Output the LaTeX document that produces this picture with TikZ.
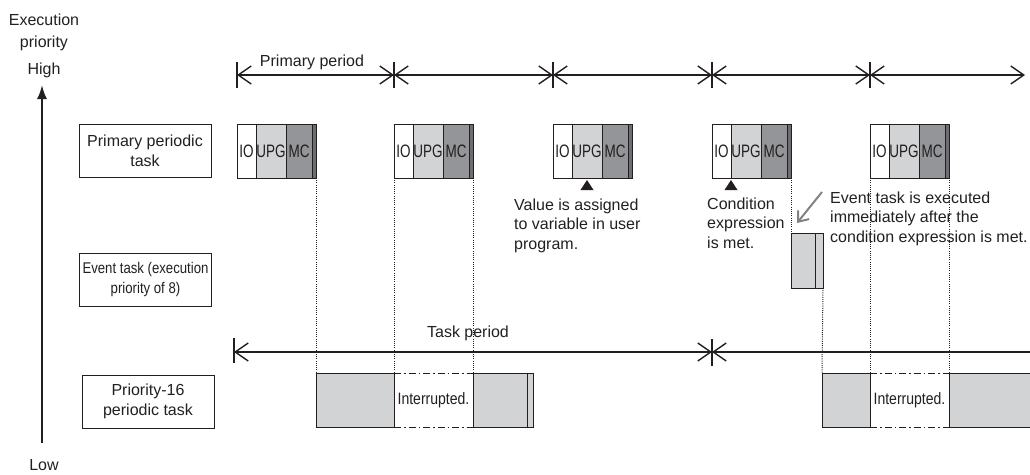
\documentclass[tikz,border=0pt]{standalone}
\usepackage{fontspec}
\setmainfont{Liberation Sans}
\newfontfamily\narrowfont[FakeStretch=0.85]{Liberation Sans}
\newfontfamily\slimfont[FakeStretch=0.75]{Liberation Sans}
\usetikzlibrary{arrows.meta}

\definecolor{ink}{HTML}{231F20}
\definecolor{upgfill}{HTML}{D1D3D4}
\definecolor{mcfill}{HTML}{939598}
\definecolor{stripfill}{HTML}{6D6E71}
\definecolor{pointer}{HTML}{808285}

\tikzset{
  seg/.style={draw=ink, line width=0.9, inner sep=0, outer sep=0, minimum height=54,
    anchor=north west, text=ink, font=\slimfont\fontsize{18}{20}\selectfont},
  taskbox/.style={draw=ink, line width=0.9, inner sep=0, align=center, text=ink,
    minimum width=132, minimum height=53},
  note/.style={align=left, anchor=north west, inner sep=0, text=ink,
    font=\fontsize{16}{19.5}\selectfont},
  barb/.tip={Straight Barb[length=13,width=18,line width=1.4]},
  period/.style={draw=ink, line width=1.4, barb-barb},
  periodtick/.style={draw=ink, line width=1.3},
  guide/.style={draw=ink, line width=1, dash pattern=on 1pt off 1.2pt},
  dashdot/.style={draw=ink, line width=0.9, dash pattern=on 7pt off 3pt on 1.5pt off 3pt},
  intlbl/.style={text=ink, font=\narrowfont\fontsize{16.5}{18}\selectfont}
}

\begin{document}
\begin{tikzpicture}[x=1pt, y=-1pt, font=\fontsize{16}{20}\selectfont]
\useasboundingbox (0,0) rectangle (1030,474);

% priority axis
\node[text=ink] (exec) at (44,20) {Execution};
\node[text=ink] (prio) at (44,43) {priority};
\node[text=ink] (high) at (44,70) {High};
\node[text=ink] (low) at (44,465.5) {Low};
\coordinate (axisbot) at (42,443);
\coordinate (axistop) at (42,85);
\draw[ink, line width=2, -{Latex[length=14,width=10]}] (axisbot) -- (axistop);

% task names
\node[taskbox] (primary) at (145,150.5) {Primary periodic\\task};
\node[taskbox, font=\narrowfont\fontsize{15.5}{20}\selectfont] (event) at (145.5,279.5) {Event task (execution\\priority of 8)};
\node[taskbox] (prio16) at (148,401.5) {Priority-16\\periodic task};

% primary periods
\def\ticks{237,394,553,712,870}
\foreach \t [count=\i] in \ticks {
  \coordinate (p\i) at (\t,75);
  \draw[periodtick] (\t,62) -- (\t,88);
}
\coordinate (p6) at (1025,75);
\foreach \i [evaluate=\i as \j using int(\i+1)] in {1,...,5}
  \draw[period] (p\i) -- (p\j);
\node[text=ink] (primlbl) at (312,62) {Primary period};

% primary periodic task runs
\foreach \t [count=\i] in \ticks {
  \node[seg, fill=white, minimum width=19] (io\i) at (\t,124) {IO};
  \node[seg, fill=upgfill, minimum width=30] (upg\i) at (io\i.north east) {UPG};
  \node[seg, fill=mcfill, minimum width=26] (mc\i) at (upg\i.north east) {MC};
  \node[seg, fill=stripfill, minimum width=4] (st\i) at (mc\i.north east) {};
}

% markers and notes
\fill[ink] ([yshift=-2]upg3.south) -- ++(-6.5,10) -- ++(13,0) -- cycle;
\fill[ink] ([yshift=-2]io4.south east) -- ++(-6.5,10) -- ++(13,0) -- cycle;
\node[note] (valnote) at (514,198.5) {Value is assigned\\to variable in user\\program.};
\node[note] (condnote) at (707,197.5) {Condition\\expression\\is met.};
\node[note] (evnote) at (830,191.5) {Event task is executed\\immediately after the\\condition expression is met.};
\coordinate (ptrfrom) at (822,192);
\coordinate (ptrto) at (797,223);
\draw[pointer, line width=2, -{Straight Barb[length=9,width=14,line width=2]}] (ptrfrom) -- (ptrto);

% event task run
\node[seg, fill=upgfill, minimum width=24, minimum height=55] (ev) at (791,233) {};
\node[seg, fill=upgfill, minimum width=8, minimum height=55] (evs) at (ev.north east) {};

% task period
\coordinate (q1) at (234,352);
\coordinate (q2) at (712,352);
\coordinate (q3) at (1040,352);
\draw[periodtick] (234,338) -- (234,363);
\draw[periodtick] (712,339) -- (712,366);
\draw[period] (q1) -- (q2);
\draw[draw=ink, line width=1.4, barb-] (q2) -- (q3);
\node[text=ink] (tasklbl) at (468,333) {Task period};

% priority-16 periodic task runs
\node[seg, fill=upgfill, minimum width=78] (pa) at (316,373) {};
\node[seg, fill=upgfill, minimum width=54] (pb) at (473,373) {};
\node[seg, fill=upgfill, minimum width=6] (pbs) at (pb.north east) {};
\node[seg, fill=upgfill, minimum width=48] (pc) at (822,373) {};
\node[seg, fill=upgfill, minimum width=100] (pd) at (949,373) {};
\draw[dashdot] (pa.north east) -- (pb.north west);
\draw[dashdot] (pa.south east) -- (pb.south west);
\draw[dashdot] (pc.north east) -- (pd.north west);
\draw[dashdot] (pc.south east) -- (pd.south west);
\node[intlbl] (int1) at (433.5,400) {Interrupted.};
\node[intlbl] (int2) at (909.5,400) {Interrupted.};

% guides
\draw[guide] (st1.south east) -- (pa.north west);
\draw[guide] (io2.south west) -- (pa.north east);
\draw[guide] (st2.south east) -- (pb.north west);
\draw[guide] (st4.south east) -- (ev.north west);
\draw[guide] (evs.south east) -- (pc.north west);
\draw[guide] (io5.south west) -- (pc.north east);
\draw[guide] (st5.south east) -- (pd.north west);

\end{tikzpicture}
\end{document}
